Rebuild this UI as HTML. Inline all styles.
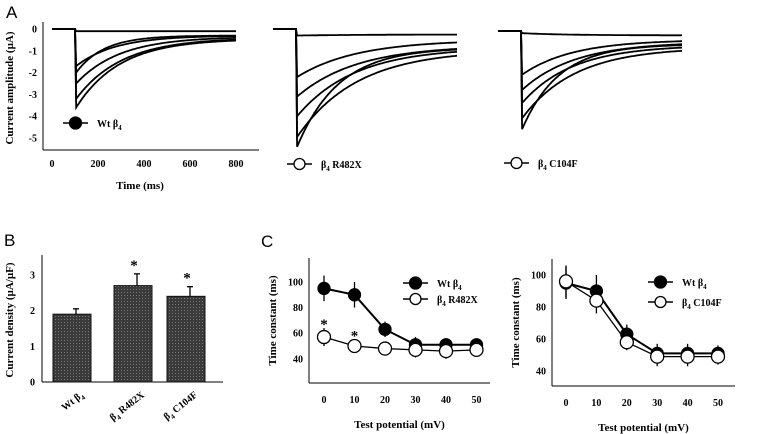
<!DOCTYPE html>
<html><head><meta charset="utf-8">
<style>
body{margin:0;background:#fff;}
svg{display:block;font-family:"Liberation Serif",serif;}
.tk{font-size:10px;font-weight:bold;}
.tt{font-size:11px;font-weight:bold;}
.pl{font-family:"Liberation Sans",sans-serif;font-size:17px;}
</style></head>
<body>
<svg id="fig" width="773" height="434" viewBox="0 0 773 434">
<defs>
<pattern id="grain" width="3" height="3" patternUnits="userSpaceOnUse">
<rect width="3" height="3" fill="#3a3a3a"/><rect x="1" y="1" width="1" height="1" fill="#777"/>
</pattern>
</defs>
<text class="pl" x="6" y="18">A</text>
<text class="pl" x="4" y="246">B</text>
<text class="pl" x="261" y="247">C</text>
<g id="g"></g>
</svg>
<script>
// ---- Panel A: trace parameters (µA, ms) ----
const wtPeaks=[-0.1,-1.7,-2.0,-2.5,-3.2,-3.6];
const wtTaus=[150,170,120,190,200,190];
const wtSS=[-0.1,-0.3,-0.3,-0.35,-0.4,-0.45];
const r482Peaks=[-0.3,-2.2,-3.1,-4.0,-4.95,-5.4];
const r482Taus=[300,260,260,250,260,180];
const r482SS=[-0.25,-0.5,-0.75,-0.85,-0.95,-0.85];
const c104Peaks=[-0.1,-2.0,-2.7,-3.3,-4.0,-4.5];
const c104Taus=[200,220,230,220,230,160];
const c104SS=[-0.2,-0.4,-0.5,-0.65,-0.75,-0.6];
const aYTicks=[0,-1,-2,-3,-4,-5];
const aXTicks=[0,200,400,600,800];
// ---- Panel B ----
const bCats=["Wt β4","β4 R482X","β4 C104F"];
const bVals=[1.9,2.7,2.4];
const bErr=[0.15,0.33,0.27];
const bSig=[false,true,true];
const bTicks=[0,1,2,3];
// ---- Panel C ----
const cX=[0,10,20,30,40,50];
const cWt=[95,90,63,51,51,51];
const cWtErr=[10,10,6,6,5,5];
const cR482=[57,50,48,47,46,47];
const cR482Err=[7,5,5,6,6,5];
const cR482Sig=[true,true,false,false,false,false];
const cWt2=[95,90,63,51,51,51];
const cWt2Err=[10,10,6,6,6,5];
const cC104=[96,84,58,49,49,49];
const cC104Err=[10,8,5,6,6,5];
const cYTicks=[40,60,80,100];

const NS="http://www.w3.org/2000/svg";
const G=document.getElementById('g');
function mk(tag,at,txt){const e=document.createElementNS(NS,tag);for(const k in at)e.setAttribute(k,at[k]);if(txt!==undefined)e.textContent=txt;G.appendChild(e);return e;}

// ---- Panel A ----
function yA(v){return 29-v*21.8;}
function traces(x0,peaks,taus,ss,name,baseY){
  for(let i=0;i<peaks.length;i++){
    let d="M"+(x0)+","+(yA(0)+baseY)+" L"+(x0+100*0.23)+","+(yA(0)+baseY);
    for(let t=105;t<=800;t+=5){
      const dt=t-105;
      const v=ss[i]+(peaks[i]-ss[i])*Math.exp(-dt/taus[i]);
      d+=" L"+(x0+t*0.23).toFixed(1)+","+(yA(v)+baseY).toFixed(1);
    }
    const p=mk('path',{d:d,fill:'none',stroke:'#000','stroke-width':1.8});
    
    
  }
}
let ax=mk('line',{x1:43,y1:22,x2:43,y2:150,stroke:'#000','stroke-width':1});

ax=mk('line',{x1:43,y1:150,x2:259,y2:150,stroke:'#000','stroke-width':1});

aYTicks.forEach(v=>{const t=mk('text',{class:'tk',x:37,y:yA(v)+3.5,'text-anchor':'end'},String(v));
});
aXTicks.forEach(v=>{const t=mk('text',{class:'tk',x:52+v*0.23,y:167,'text-anchor':'middle'},String(v));
});
let tt=mk('text',{class:'tt',x:140,y:189,'text-anchor':'middle'},'Time (ms)');

tt=mk('text',{class:'tt',x:0,y:0,'text-anchor':'middle',transform:'translate(13,88) rotate(-90)'},'Current amplitude (µA)');

traces(52,wtPeaks,wtTaus,wtSS,'wt',0);
traces(273,r482Peaks,r482Taus,r482SS,'r482x',0);
traces(498,c104Peaks,c104Taus,c104SS,'c104f',2);
function legend(x,y,filled,label,name){
  const l=mk('line',{x1:x,y1:y,x2:x+25,y2:y,stroke:'#000','stroke-width':1.5});
  
  const c=mk('circle',{cx:x+12.5,cy:y,r:filled?6:5.5,fill:filled?'#000':'#fff',stroke:'#000','stroke-width':1.3});
  
  const t=mk('text',{class:'tk',x:x+34,y:y+4});
  
  t.innerHTML=label;
}
legend(63,123,true,'Wt β<tspan font-size="7" dy="3">4</tspan>','a-legend-wt');
legend(287,164,false,'β<tspan font-size="7" dy="3">4</tspan><tspan dy="-3"> R482X</tspan>','a-legend-r482x');
legend(504,163,false,'β<tspan font-size="7" dy="3">4</tspan><tspan dy="-3"> C104F</tspan>','a-legend-c104f');

// ---- Panel B ----
function yB(v){return 382-v*35.7;}
const bX=[72,133,186];
ax=mk('line',{x1:42,y1:255,x2:42,y2:382,stroke:'#000','stroke-width':1});

ax=mk('line',{x1:42,y1:382,x2:223,y2:382,stroke:'#000','stroke-width':1});

bTicks.forEach(v=>{const t=mk('text',{class:'tk',x:35,y:yB(v)+3.5,'text-anchor':'end'},String(v));
});
tt=mk('text',{class:'tt',x:0,y:0,'text-anchor':'middle',transform:'translate(13,320) rotate(-90)'},'Current density (µA/µF)');

bVals.forEach((v,i)=>{
  const cx=bX[i];
  const e=mk('line',{x1:cx+4,y1:yB(v+bErr[i]),x2:cx+4,y2:yB(v),stroke:'#000','stroke-width':1.3});
  
  const c=mk('line',{x1:cx+1,y1:yB(v+bErr[i]),x2:cx+7,y2:yB(v+bErr[i]),stroke:'#000','stroke-width':1.3});
  
  const r=mk('rect',{x:cx-19,y:yB(v),width:38,height:yB(0)-yB(v),fill:'url(#grain)',stroke:'#111','stroke-width':1});
  
  if(bSig[i]){const s=mk('text',{x:cx+1,y:yB(v+bErr[i])-4,'text-anchor':'middle','font-size':'15','font-weight':'bold'},'*');
    }
  const lab=bCats[i].split('β4');
  const t=mk('text',{class:'tk',x:0,y:0,'text-anchor':'end',transform:'translate('+(cx+12)+',396) rotate(-38)'});
  
  if(lab[0]) t.innerHTML=lab[0]+'β<tspan font-size="7" dy="3">4</tspan>';
  else t.innerHTML='β<tspan font-size="7" dy="3">4</tspan><tspan dy="-3">'+lab[1]+'</tspan>';
});

// ---- Panel C ----
function cPanel(opt){
  const xS=v=>opt.x0+v*opt.kx, yS=v=>opt.y100+(100-v)*opt.ky;
  let a=mk('line',{x1:opt.ax,y1:opt.top,x2:opt.ax,y2:opt.base,stroke:'#000','stroke-width':1});
  
  a=mk('line',{x1:opt.ax,y1:opt.base,x2:opt.right,y2:opt.base,stroke:'#000','stroke-width':1});
  
  cYTicks.forEach(v=>{const t=mk('text',{class:'tk',x:opt.ax-6,y:yS(v)+3.5,'text-anchor':'end'},String(v));
    });
  cX.forEach(v=>{const t=mk('text',{class:'tk',x:xS(v),y:opt.base+20,'text-anchor':'middle'},String(v));
    });
  let t=mk('text',{class:'tt',x:(opt.ax+opt.right)/2,y:opt.base+45,'text-anchor':'middle'},'Test potential (mV)');
  
  t=mk('text',{class:'tt',x:0,y:0,'text-anchor':'middle',transform:'translate('+(opt.ax-33)+','+((opt.top+opt.base)/2)+') rotate(-90)'},'Time constant (ms)');
  
  opt.series.forEach(s=>{
    s.v.forEach((v,i)=>{const e=mk('line',{x1:xS(cX[i]),y1:yS(v+s.e[i]),x2:xS(cX[i]),y2:yS(v-s.e[i]),stroke:'#000','stroke-width':1.3});
      });
    const p=mk('polyline',{points:s.v.map((v,i)=>xS(cX[i])+','+yS(v)).join(' '),fill:'none',stroke:'#000','stroke-width':s.filled?2:1.3});
    
  });
  opt.series.forEach(s=>{
    s.v.forEach((v,i)=>{const c=mk('circle',{cx:xS(cX[i]),cy:yS(v),r:s.filled?6:6.5,fill:s.filled?'#000':'#fff',stroke:'#000','stroke-width':1.3});
      });
    if(s.sig) s.sig.forEach((g,i)=>{if(!g)return;const st=mk('text',{x:xS(cX[i]),y:yS(s.v[i]+s.e[i])+1,'text-anchor':'middle','font-size':'15','font-weight':'bold'},'*');
      });
  });
  legend(opt.lx,opt.ly,true,'Wt β<tspan font-size="7" dy="3">4</tspan>',opt.id+'-legend-wt');
  legend(opt.lx,opt.ly+opt.lgap,false,'β<tspan font-size="7" dy="3">4</tspan><tspan dy="-3"> '+opt.mut+'</tspan>',opt.id+'-legend-mut');
}
cPanel({id:'c1',x0:324,kx:3.05,y100:282,ky:1.28,ax:309,top:258,base:383,right:490,lx:403,ly:283,lgap:16,mut:'R482X',
  series:[{name:'wt',v:cWt,e:cWtErr,filled:true},{name:'r482x',v:cR482,e:cR482Err,filled:false,sig:cR482Sig}]});
cPanel({id:'c2',x0:566,kx:3.04,y100:275,ky:1.6,ax:552,top:259,base:386,right:735,lx:648,ly:282,lgap:20,mut:'C104F',
  series:[{name:'wt',v:cWt2,e:cWt2Err,filled:true},{name:'c104f',v:cC104,e:cC104Err,filled:false}]});
</script>
</body></html>
